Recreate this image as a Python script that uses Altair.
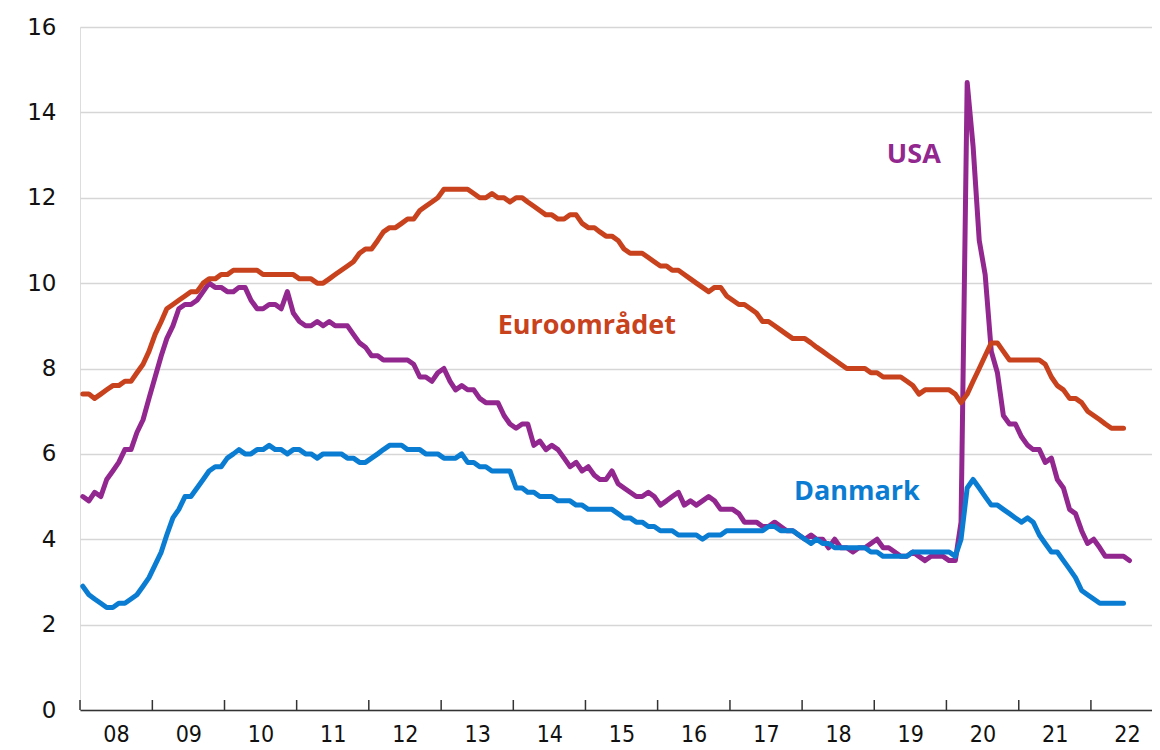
import altair as alt
import pandas as pd

# ---------------- data (monthly, Jan 2008 onwards) ----------------
usa = [
    5.0, 4.9, 5.1, 5.0, 5.4, 5.6, 5.8, 6.1, 6.1, 6.5, 6.8, 7.3,
    7.8, 8.3, 8.7, 9.0, 9.4, 9.5, 9.5, 9.6, 9.8, 10.0, 9.9, 9.9,
    9.8, 9.8, 9.9, 9.9, 9.6, 9.4, 9.4, 9.5, 9.5, 9.4, 9.8, 9.3,
    9.1, 9.0, 9.0, 9.1, 9.0, 9.1, 9.0, 9.0, 9.0, 8.8, 8.6, 8.5,
    8.3, 8.3, 8.2, 8.2, 8.2, 8.2, 8.2, 8.1, 7.8, 7.8, 7.7, 7.9,
    8.0, 7.7, 7.5, 7.6, 7.5, 7.5, 7.3, 7.2, 7.2, 7.2, 6.9, 6.7,
    6.6, 6.7, 6.7, 6.2, 6.3, 6.1, 6.2, 6.1, 5.9, 5.7, 5.8, 5.6,
    5.7, 5.5, 5.4, 5.4, 5.6, 5.3, 5.2, 5.1, 5.0, 5.0, 5.1, 5.0,
    4.8, 4.9, 5.0, 5.1, 4.8, 4.9, 4.8, 4.9, 5.0, 4.9, 4.7, 4.7,
    4.7, 4.6, 4.4, 4.4, 4.4, 4.3, 4.3, 4.4, 4.3, 4.2, 4.2, 4.1,
    4.0, 4.1, 4.0, 4.0, 3.8, 4.0, 3.8, 3.8, 3.7, 3.8, 3.8, 3.9,
    4.0, 3.8, 3.8, 3.7, 3.6, 3.6, 3.7, 3.6, 3.5, 3.6, 3.6, 3.6,
    3.5, 3.5, 4.4, 14.7, 13.2, 11.0, 10.2, 8.4, 7.9, 6.9, 6.7, 6.7,
    6.4, 6.2, 6.1, 6.1, 5.8, 5.9, 5.4, 5.2, 4.7, 4.6, 4.2, 3.9,
    4.0, 3.8, 3.6, 3.6, 3.6, 3.6, 3.5,
]

euro = [
    7.4, 7.4, 7.3, 7.4, 7.5, 7.6, 7.6, 7.7, 7.7, 7.9, 8.1, 8.4,
    8.8, 9.1, 9.4, 9.5, 9.6, 9.7, 9.8, 9.8, 10.0, 10.1, 10.1, 10.2,
    10.2, 10.3, 10.3, 10.3, 10.3, 10.3, 10.2, 10.2, 10.2, 10.2, 10.2, 10.2,
    10.1, 10.1, 10.1, 10.0, 10.0, 10.1, 10.2, 10.3, 10.4, 10.5, 10.7, 10.8,
    10.8, 11.0, 11.2, 11.3, 11.3, 11.4, 11.5, 11.5, 11.7, 11.8, 11.9, 12.0,
    12.2, 12.2, 12.2, 12.2, 12.2, 12.1, 12.0, 12.0, 12.1, 12.0, 12.0, 11.9,
    12.0, 12.0, 11.9, 11.8, 11.7, 11.6, 11.6, 11.5, 11.5, 11.6, 11.6, 11.4,
    11.3, 11.3, 11.2, 11.1, 11.1, 11.0, 10.8, 10.7, 10.7, 10.7, 10.6, 10.5,
    10.4, 10.4, 10.3, 10.3, 10.2, 10.1, 10.0, 9.9, 9.8, 9.9, 9.9, 9.7,
    9.6, 9.5, 9.5, 9.4, 9.3, 9.1, 9.1, 9.0, 8.9, 8.8, 8.7, 8.7,
    8.7, 8.6, 8.5, 8.4, 8.3, 8.2, 8.1, 8.0, 8.0, 8.0, 8.0, 7.9,
    7.9, 7.8, 7.8, 7.8, 7.8, 7.7, 7.6, 7.4, 7.5, 7.5, 7.5, 7.5,
    7.5, 7.4, 7.2, 7.4, 7.7, 8.0, 8.3, 8.6, 8.6, 8.4, 8.2, 8.2,
    8.2, 8.2, 8.2, 8.2, 8.1, 7.8, 7.6, 7.5, 7.3, 7.3, 7.2, 7.0,
    6.9, 6.8, 6.7, 6.6, 6.6, 6.6,
]

danmark = [
    2.9, 2.7, 2.6, 2.5, 2.4, 2.4, 2.5, 2.5, 2.6, 2.7, 2.9, 3.1,
    3.4, 3.7, 4.1, 4.5, 4.7, 5.0, 5.0, 5.2, 5.4, 5.6, 5.7, 5.7,
    5.9, 6.0, 6.1, 6.0, 6.0, 6.1, 6.1, 6.2, 6.1, 6.1, 6.0, 6.1,
    6.1, 6.0, 6.0, 5.9, 6.0, 6.0, 6.0, 6.0, 5.9, 5.9, 5.8, 5.8,
    5.9, 6.0, 6.1, 6.2, 6.2, 6.2, 6.1, 6.1, 6.1, 6.0, 6.0, 6.0,
    5.9, 5.9, 5.9, 6.0, 5.8, 5.8, 5.7, 5.7, 5.6, 5.6, 5.6, 5.6,
    5.2, 5.2, 5.1, 5.1, 5.0, 5.0, 5.0, 4.9, 4.9, 4.9, 4.8, 4.8,
    4.7, 4.7, 4.7, 4.7, 4.7, 4.6, 4.5, 4.5, 4.4, 4.4, 4.3, 4.3,
    4.2, 4.2, 4.2, 4.1, 4.1, 4.1, 4.1, 4.0, 4.1, 4.1, 4.1, 4.2,
    4.2, 4.2, 4.2, 4.2, 4.2, 4.2, 4.3, 4.3, 4.2, 4.2, 4.2, 4.1,
    4.0, 3.9, 4.0, 3.9, 3.9, 3.8, 3.8, 3.8, 3.8, 3.8, 3.8, 3.7,
    3.7, 3.6, 3.6, 3.6, 3.6, 3.6, 3.7, 3.7, 3.7, 3.7, 3.7, 3.7,
    3.7, 3.6, 4.0, 5.2, 5.4, 5.2, 5.0, 4.8, 4.8, 4.7, 4.6, 4.5,
    4.4, 4.5, 4.4, 4.1, 3.9, 3.7, 3.7, 3.5, 3.3, 3.1, 2.8, 2.7,
    2.6, 2.5, 2.5, 2.5, 2.5, 2.5,
]

series_names = ["USA", "Euroområdet", "Danmark"]
series_colors = ["#92278F", "#C8421E", "#0A7DD3"]

year_starts = list(range(2008, 2023))
y_ticks = [0, 2, 4, 6, 8, 10, 12, 14, 16]

# annotation labels (name, date, value)
label_names = ["Euroområdet", "USA", "Danmark"]
label_dates = ["2015-01-08", "2019-07-20", "2018-10-05"]
label_values = [9.0, 13.0, 5.1]


def monthly(values, name):
    dates = pd.date_range("2008-01-01", periods=len(values), freq="MS") + pd.Timedelta(days=14)
    return pd.DataFrame({"date": dates.strftime("%Y-%m-%d"), "value": values, "series": name})


df_usa = monthly(usa, "USA")
df_euro = monthly(euro, "Euroområdet")
df_dk = monthly(danmark, "Danmark")

ticks_df = pd.DataFrame({"date": [f"{y}-01-01" for y in year_starts]})
labels_df = pd.DataFrame({"label": label_names, "date": label_dates, "value": label_values})

x_domain = [alt.DateTime(year=2008, month=1, date=1), alt.DateTime(year=2022, month=11, date=6)]
x_scale = alt.Scale(domain=x_domain, nice=False)
y_scale = alt.Scale(domain=[0, 16], nice=False)
color_scale = alt.Scale(domain=series_names, range=series_colors)

x_axis = alt.Axis(
    values=[alt.DateTime(year=y, month=1, date=1) for y in year_starts],
    format="%y", labelOffset=36, ticks=False, tickSize=0, domain=True,
    domainColor="#333333", domainWidth=1.6, grid=False, title=None,
    labelFont="DejaVu Sans Condensed", labelFontSize=23, labelColor="#111111",
    labelPadding=13, labelFlush=False, labelOverlap=False, labelBaseline="top",
)
y_axis = alt.Axis(
    values=y_ticks, ticks=False, tickSize=0, domain=False, grid=True,
    gridColor="#d6d6d6", gridWidth=1.5, title=None,
    labelFont="DejaVu Sans", labelFontSize=23, labelColor="#111111",
    labelPadding=24,
)

base_x = alt.X("date:T", scale=x_scale, axis=x_axis)
base_y = alt.Y("value:Q", scale=y_scale, axis=y_axis)


def line_layer(df):
    return alt.Chart(df).mark_line(
        strokeWidth=5, strokeCap="round", strokeJoin="round"
    ).encode(
        x=base_x,
        y=base_y,
        color=alt.Color("series:N", scale=color_scale, legend=None),
    )


ticks = alt.Chart(ticks_df).mark_rule(color="#333333", strokeWidth=1.5).encode(
    x=alt.X("date:T", scale=x_scale, axis=x_axis),
    y=alt.datum(0, scale=y_scale),
    y2=alt.value(673),
)

labels = alt.Chart(labels_df).mark_text(
    font="Open Sans", fontWeight="bold", fontSize=27, align="center", baseline="middle"
).encode(
    x=alt.X("date:T", scale=x_scale, axis=x_axis),
    y=alt.Y("value:Q", scale=y_scale, axis=y_axis),
    text="label:N",
    color=alt.Color("label:N", scale=color_scale, legend=None),
)

chart = alt.layer(
    line_layer(df_usa), line_layer(df_euro), line_layer(df_dk), ticks, labels
).properties(
    width=1072,
    height=683,
    autosize=alt.AutoSizeParams(type="none"),
    padding={"left": 72, "top": 19, "right": 0, "bottom": 38},
).configure_view(stroke=None).configure(background="white")

chart.save("out.html", embed_options={"renderer": "svg", "actions": False})
